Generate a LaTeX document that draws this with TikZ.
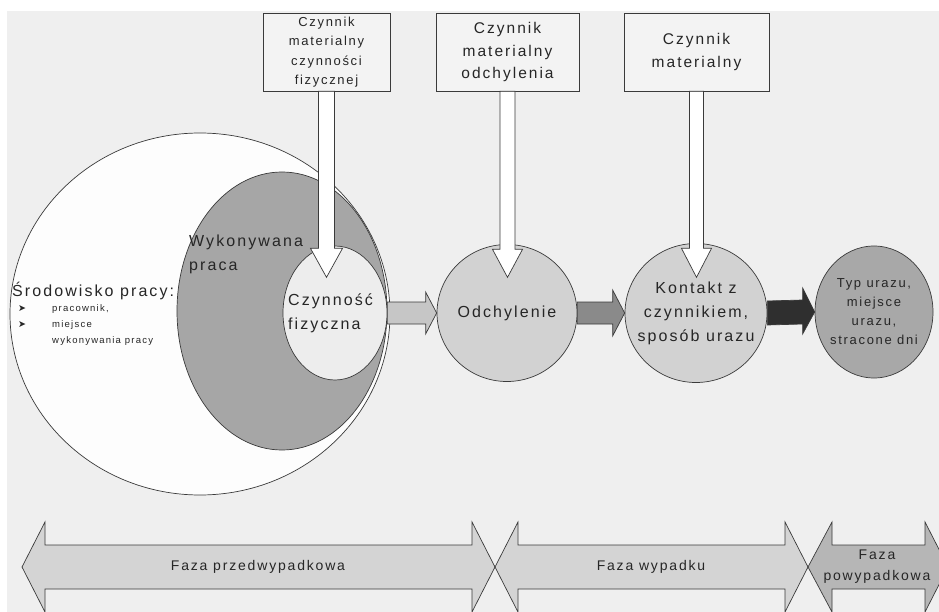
\documentclass[tikz,border=0pt]{standalone}
\usepackage{fontspec}
\setmainfont{Liberation Sans}[LetterSpace=13]
\newfontfamily\symfont{DejaVu Sans}
\usetikzlibrary{shapes.geometric}

\definecolor{bgcol}{HTML}{EFEFEF}
\definecolor{linecol}{HTML}{3A3A3A}
\definecolor{boxcol}{HTML}{F3F3F3}
\definecolor{envcol}{HTML}{FDFDFD}
\definecolor{workcol}{HTML}{A6A6A6}
\definecolor{actcol}{HTML}{EDEDED}
\definecolor{circcol}{HTML}{D2D2D2}
\definecolor{injcol}{HTML}{A8A8A8}
\definecolor{arrowA}{HTML}{C6C6C6}
\definecolor{arrowB}{HTML}{8A8A8A}
\definecolor{arrowC}{HTML}{2F2F2F}
\definecolor{phasecol}{HTML}{D4D4D4}
\definecolor{postcol}{HTML}{B6B6B6}
\definecolor{textcol}{HTML}{262626}

\begin{document}
\begin{tikzpicture}[x=1pt,y=-1pt,
    outline/.style={draw=linecol, line width=0.7pt},
    factorbox/.style={outline, fill=boxcol, minimum height=78pt, inner sep=0pt, align=center},
    phasecircle/.style={outline, ellipse, inner sep=0pt},
    downarrow/.style={outline, fill=white},
    fatarrow/.style={outline},
    phasearrow/.style={outline, fill=phasecol},
    plaintext/.style={inner sep=0pt, text=textcol},
    boxsmall/.style={font=\fontsize{13}{19.5}\selectfont},
    boxtext/.style={font=\fontsize{15.5}{22.5}\selectfont},
    bigtext/.style={font=\fontsize{16}{24}\selectfont},
    midtext/.style={font=\fontsize{13}{19}\selectfont},
    tinytext/.style={font=\fontsize{9.5}{16}\selectfont},
    phasetext/.style={font=\fontsize{14}{21}\selectfont}]

    % page and background
    \fill[white] (0,0) rectangle (939,612);
    \fill[bgcol] (7,11) rectangle (939,612);
    \useasboundingbox (0,0) rectangle (939,612);

    % material agents
    \node[factorbox, boxsmall, text=textcol, minimum width=127pt] (box1) at (326.5,52) {Czynnik\\materialny\\czynności\\fizycznej};
    \node[factorbox, boxtext, text=textcol, minimum width=143pt] (box2) at (507.5,52) {Czynnik\\materialny\\odchylenia};
    \node[factorbox, boxtext, text=textcol, minimum width=145pt] (box3) at (696.5,52) {Czynnik\\materialny};

    % nested ellipses
    \node[phasecircle, fill=envcol, minimum width=380pt, minimum height=362pt] (env) at (200,314) {};
    \node[phasecircle, fill=workcol, minimum width=210pt, minimum height=278pt] (work) at (282,311) {};
    \node[phasecircle, fill=actcol, minimum width=104pt, minimum height=134pt] (act) at (335,313) {};

    \node[plaintext, bigtext, anchor=west] (envtext) at (12,291) {Środowisko pracy:};
    \node[plaintext, tinytext, anchor=west, align=left] (bullets) at (18,317) {\symfont ➤\\\symfont ➤};
    \node[plaintext, tinytext, anchor=west, align=left] (envitems) at (52,325) {pracownik,\\miejsce\\wykonywania pracy};
    \node[plaintext, bigtext, anchor=west, align=left] (worktext) at (189,254) {Wykonywana\\praca};
    \node[plaintext, bigtext, anchor=west, align=left] (acttext) at (288,313) {Czynność\\fizyczna};

    % other phases
    \node[phasecircle, fill=circcol, minimum width=140pt, minimum height=137pt] (dev) at (507,313) {};
    \node[phasecircle, fill=circcol, minimum width=142pt, minimum height=139pt] (contact) at (696,313) {};
    \node[phasecircle, fill=injcol, minimum width=118pt, minimum height=132pt] (injury) at (874,312) {};
    \node[plaintext, bigtext] (devtext) at (dev) {Odchylenie};
    \node[plaintext, bigtext, align=center] (contacttext) at (contact) {Kontakt z\\czynnikiem,\\sposób urazu};
    \node[plaintext, midtext, align=center] (injurytext) at (injury) {Typ urazu,\\miejsce\\urazu,\\stracone dni};

    % arrows from the agents
    \draw[downarrow] ([xshift=-8pt]box1.south) -- ++(0,157) -- ++(-8,0) -- ++(16,29) -- ++(16,-29) -- ++(-8,0) -- ++(0,-157) -- cycle;
    \draw[downarrow] ([xshift=-7.5pt]box2.south) -- ++(0,158) -- ++(-7.5,0) -- ++(15,28) -- ++(15,-28) -- ++(-7.5,0) -- ++(0,-158) -- cycle;
    \draw[downarrow] ([xshift=-7pt]box3.south) -- ++(0,157) -- ++(-8,0) -- ++(15,29) -- ++(15,-29) -- ++(-8,0) -- ++(0,-157) -- cycle;

    % arrows between phases
    \draw[fatarrow, fill=arrowA] ([yshift=11pt]act.east) -- ([xshift=-11pt,yshift=11pt]dev.west) -- ([xshift=-11pt,yshift=21pt]dev.west) -- (dev.west)
        -- ([xshift=-11pt,yshift=-21pt]dev.west) -- ([xshift=-11pt,yshift=-11pt]dev.west) -- ([yshift=-11pt]act.east) -- cycle;
    \draw[fatarrow, fill=arrowB] ([yshift=11pt]dev.east) -- ([xshift=-12pt,yshift=11pt]contact.west) -- ([xshift=-12pt,yshift=23pt]contact.west) -- (contact.west)
        -- ([xshift=-12pt,yshift=-23pt]contact.west) -- ([xshift=-12pt,yshift=-11pt]contact.west) -- ([yshift=-11pt]dev.east) -- cycle;
    \draw[fatarrow, fill=arrowC] ([yshift=12pt]contact.east) -- ([xshift=-12pt,yshift=12pt]injury.west) -- ([xshift=-12pt,yshift=24pt]injury.west) -- (injury.west)
        -- ([xshift=-12pt,yshift=-22pt]injury.west) -- ([xshift=-12pt,yshift=-12pt]injury.west) -- ([yshift=-12pt]contact.east) -- cycle;

    % phase arrows
    \draw[phasearrow] (22,567) -- (45,522) -- (45,545) -- (472,545) -- (472,522) -- (495,567) -- (472,612) -- (472,589) -- (45,589) -- (45,612) -- cycle;
    \draw[phasearrow] (495,567) -- (518,522) -- (518,545) -- (785,545) -- (785,522) -- (808,567) -- (785,612) -- (785,589) -- (518,589) -- (518,612) -- cycle;
    \draw[phasearrow, fill=postcol] (808,567) -- (832,522) -- (832,545) -- (925,545) -- (925,522) -- (948,567) -- (925,612) -- (925,589) -- (832,589) -- (832,612) -- cycle;
    \node[plaintext, phasetext] (pre) at (258,567) {Faza przedwypadkowa};
    \node[plaintext, phasetext] (acc) at (651,567) {Faza wypadku};
    \node[plaintext, phasetext, align=center] (post) at (877,567) {Faza\\powypadkowa};
\end{tikzpicture}
\end{document}
